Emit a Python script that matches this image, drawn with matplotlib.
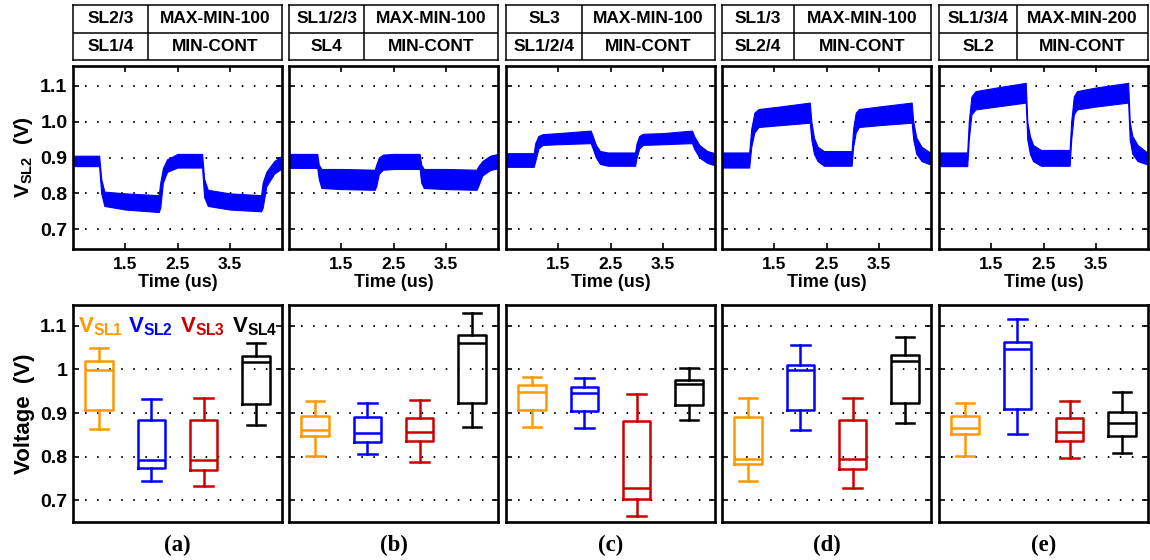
import matplotlib
matplotlib.use("Agg")
import matplotlib.pyplot as plt
from matplotlib.ticker import FixedLocator, FixedFormatter
from matplotlib.patches import Rectangle

plt.rcParams['font.family'] = ['Liberation Sans', 'DejaVu Sans']
plt.rcParams['font.weight'] = 'bold'
plt.rcParams['mathtext.fontset'] = 'custom'
plt.rcParams['mathtext.bf'] = 'Liberation Sans:bold'
plt.rcParams['mathtext.rm'] = 'Liberation Sans:bold'

# ---------------- data ----------------
panel_labels = ['(a)', '(b)', '(c)', '(d)', '(e)']
table_row1_left = ['SL2/3', 'SL1/2/3', 'SL3', 'SL1/3', 'SL1/3/4']
table_row1_right = ['MAX-MIN-100', 'MAX-MIN-100', 'MAX-MIN-100', 'MAX-MIN-100', 'MAX-MIN-200']
table_row2_left = ['SL1/4', 'SL4', 'SL1/2/4', 'SL2/4', 'SL2']
table_row2_right = ['MIN-CONT', 'MIN-CONT', 'MIN-CONT', 'MIN-CONT', 'MIN-CONT']

time_ticks = [1.5, 2.5, 3.5]
time_ticklabels = ['1.5', '2.5', '3.5']
top_yticks = [0.7, 0.8, 0.9, 1.0, 1.1]
top_yticklabels = ['0.7', '0.8', '0.9', '1.0', '1.1']
bot_yticks = [0.7, 0.8, 0.9, 1.0, 1.1]
bot_yticklabels = ['0.7', '0.8', '0.9', '1', '1.1']

# V_SL2 waveform envelopes (time in us, lower / upper edge of the noisy trace in V)
wave_a_t = [0.5, 1.0, 1.04, 1.1, 1.5, 2.14, 2.17, 2.22, 2.3, 2.5, 2.97, 3.01, 3.08, 3.5, 4.1, 4.13, 4.2, 4.35, 4.5]
wave_a_hi = [0.905, 0.905, 0.84, 0.805, 0.80, 0.795, 0.83, 0.87, 0.895, 0.91, 0.91, 0.84, 0.81, 0.80, 0.795, 0.83, 0.86, 0.89, 0.905]
wave_a_lo = [0.876, 0.876, 0.80, 0.765, 0.755, 0.748, 0.76, 0.83, 0.86, 0.872, 0.872, 0.79, 0.765, 0.755, 0.75, 0.76, 0.82, 0.855, 0.87]

wave_b_t = [0.5, 1.04, 1.07, 1.12, 1.5, 2.14, 2.17, 2.22, 2.3, 2.5, 3.0, 3.03, 3.08, 3.5, 4.09, 4.12, 4.2, 4.35, 4.5]
wave_b_hi = [0.91, 0.91, 0.88, 0.868, 0.868, 0.866, 0.88, 0.90, 0.908, 0.91, 0.91, 0.88, 0.868, 0.868, 0.866, 0.875, 0.89, 0.905, 0.91]
wave_b_lo = [0.871, 0.871, 0.84, 0.815, 0.812, 0.81, 0.82, 0.855, 0.866, 0.868, 0.868, 0.83, 0.815, 0.812, 0.81, 0.82, 0.85, 0.865, 0.87]

wave_c_t = [0.5, 1.03, 1.06, 1.12, 1.2, 1.5, 2.12, 2.16, 2.22, 2.3, 2.45, 2.97, 3.0, 3.05, 3.12, 3.5, 4.06, 4.1, 4.2, 4.35, 4.5]
wave_c_hi = [0.912, 0.912, 0.94, 0.96, 0.965, 0.968, 0.975, 0.96, 0.935, 0.918, 0.914, 0.914, 0.94, 0.96, 0.966, 0.968, 0.975, 0.96, 0.935, 0.918, 0.912]
wave_c_lo = [0.874, 0.874, 0.89, 0.925, 0.935, 0.937, 0.94, 0.925, 0.90, 0.882, 0.877, 0.877, 0.90, 0.925, 0.935, 0.937, 0.94, 0.925, 0.90, 0.885, 0.878]

wave_d_t = [0.5, 1.02, 1.06, 1.12, 1.2, 1.6, 2.18, 2.21, 2.26, 2.33, 2.45, 2.98, 3.01, 3.06, 3.12, 3.5, 4.13, 4.16, 4.22, 4.32, 4.5]
wave_d_hi = [0.914, 0.914, 0.98, 1.025, 1.035, 1.042, 1.053, 1.0, 0.955, 0.93, 0.918, 0.918, 0.98, 1.025, 1.035, 1.042, 1.053, 1.0, 0.955, 0.93, 0.912]
wave_d_lo = [0.872, 0.872, 0.93, 0.97, 0.985, 0.99, 0.997, 0.95, 0.91, 0.89, 0.877, 0.877, 0.93, 0.97, 0.985, 0.99, 0.997, 0.95, 0.91, 0.89, 0.88]

wave_e_t = [0.5, 1.04, 1.07, 1.12, 1.2, 1.6, 2.16, 2.19, 2.24, 2.3, 2.45, 3.0, 3.03, 3.08, 3.14, 3.5, 4.12, 4.15, 4.2, 4.3, 4.5]
wave_e_hi = [0.914, 0.914, 1.0, 1.07, 1.085, 1.095, 1.108, 1.0, 0.96, 0.935, 0.921, 0.921, 1.0, 1.07, 1.085, 1.095, 1.108, 1.0, 0.96, 0.935, 0.912]
wave_e_lo = [0.876, 0.876, 0.95, 1.02, 1.034, 1.042, 1.053, 0.95, 0.91, 0.89, 0.877, 0.877, 0.95, 1.02, 1.034, 1.042, 1.053, 0.95, 0.91, 0.89, 0.88]

waves = [(wave_a_t, wave_a_lo, wave_a_hi), (wave_b_t, wave_b_lo, wave_b_hi),
         (wave_c_t, wave_c_lo, wave_c_hi), (wave_d_t, wave_d_lo, wave_d_hi),
         (wave_e_t, wave_e_lo, wave_e_hi)]

# Box-plot statistics per panel: [whislo, q1, med, q3, whishi] for SL1..SL4
series_names = ['SL1', 'SL2', 'SL3', 'SL4']
box_a = [[0.864, 0.908, 0.998, 1.019, 1.050],
         [0.745, 0.775, 0.793, 0.885, 0.933],
         [0.733, 0.770, 0.793, 0.885, 0.934],
         [0.873, 0.920, 1.017, 1.031, 1.061]]
box_b = [[0.802, 0.847, 0.862, 0.894, 0.927],
         [0.806, 0.834, 0.854, 0.890, 0.922],
         [0.787, 0.836, 0.857, 0.888, 0.929],
         [0.867, 0.922, 1.061, 1.080, 1.130]]
box_c = [[0.867, 0.906, 0.949, 0.964, 0.983],
         [0.866, 0.904, 0.946, 0.960, 0.981],
         [0.664, 0.703, 0.728, 0.882, 0.944],
         [0.885, 0.919, 0.967, 0.977, 1.004]]
box_d = [[0.743, 0.783, 0.795, 0.891, 0.935],
         [0.860, 0.906, 0.998, 1.011, 1.057],
         [0.728, 0.772, 0.795, 0.884, 0.935],
         [0.877, 0.923, 1.019, 1.034, 1.075]]
box_e = [[0.801, 0.851, 0.866, 0.894, 0.923],
         [0.853, 0.910, 1.048, 1.064, 1.117],
         [0.797, 0.837, 0.856, 0.888, 0.928],
         [0.808, 0.848, 0.877, 0.902, 0.949]]
boxes = [box_a, box_b, box_c, box_d, box_e]
series_colors = ['#FF9900', '#0000FF', '#CC0000', '#000000']

# ---------------- layout ----------------
W, H = 1150, 560
fig = plt.figure(figsize=(W / 100, H / 100), dpi=100)
lefts = [73, 289, 506, 722, 939]
pw = 209
top_y0, top_y1 = 66, 249
bot_y0, bot_y1 = 305, 522
tab_y0, tab_y1 = 5, 60
split = [0.36, 0.36, 0.365, 0.345, 0.375]

def fax(x0, y0, w, h):
    return fig.add_axes([x0 / W, (H - y0 - h) / H, w / W, h / H])

grid_kw = dict(color='black', linestyle=(0, (0.8, 5.4)), linewidth=1.4, zorder=1)
ytick_fs = 14
xtick_fs = 12.5

for i in range(5):
    # ---- table ----
    tax = fax(lefts[i], tab_y0, pw, tab_y1 - tab_y0)
    tax.set_xlim(0, 1); tax.set_ylim(0, 1)
    tax.set_xticks([]); tax.set_yticks([])
    for s in tax.spines.values():
        s.set_linewidth(1.1)
    tax.axhline(0.5, color='black', lw=1.1)
    tax.axvline(split[i], color='black', lw=1.1)
    tfs = 12.5
    tax.text(split[i] / 2, 0.75, table_row1_left[i], ha='center', va='center', fontsize=tfs, fontweight='bold')
    tax.text((1 + split[i]) / 2, 0.75, table_row1_right[i], ha='center', va='center', fontsize=tfs, fontweight='bold')
    tax.text(split[i] / 2, 0.25, table_row2_left[i], ha='center', va='center', fontsize=tfs, fontweight='bold')
    tax.text((1 + split[i]) / 2, 0.25, table_row2_right[i], ha='center', va='center', fontsize=tfs, fontweight='bold')

    # ---- waveform ----
    ax = fax(lefts[i], top_y0, pw, top_y1 - top_y0)
    for y in top_yticks:
        ax.axhline(y, **grid_kw)
    t, lo, hi = waves[i]
    ax.fill_between(t, lo, hi, color='#0000FF', linewidth=0.8, edgecolor='#0000FF', zorder=2)
    ax.set_xlim(0.5, 4.5)
    ax.set_ylim(0.645, 1.155)
    ax.xaxis.set_major_locator(FixedLocator(time_ticks))
    ax.xaxis.set_major_formatter(FixedFormatter(time_ticklabels))
    ax.yaxis.set_major_locator(FixedLocator(top_yticks))
    ax.tick_params(direction='in', top=True, right=True, length=4, width=1.2, pad=4)
    ax.tick_params(axis='x', labelsize=xtick_fs, pad=6)
    ax.tick_params(axis='y', labelsize=ytick_fs)
    if i == 0:
        ax.yaxis.set_major_formatter(FixedFormatter(top_yticklabels))
        ax.set_ylabel(r'$\mathbf{V_{SL2}}$  (V)', fontsize=15, fontweight='bold', labelpad=4)
    else:
        ax.set_yticklabels([])
    ax.set_xlabel('Time (us)', fontsize=13, fontweight='bold', labelpad=1)
    for s in ax.spines.values():
        s.set_linewidth(1.9)
        s.set_zorder(5)

    # ---- box plot ----
    bx = fax(lefts[i], bot_y0, pw, bot_y1 - bot_y0)
    for y in bot_yticks:
        bx.axhline(y, **grid_kw)
    for k in range(4):
        lo_, q1, med, q3, hi_ = boxes[i][k]
        st = [dict(whislo=lo_, q1=q1, med=med, q3=q3, whishi=hi_, fliers=[])]
        c = series_colors[k]
        lp = dict(color=c, linewidth=1.8)
        bx.bxp(st, positions=[k + 1], widths=0.53, capwidths=0.35, showfliers=False,
               boxprops=lp, whiskerprops=lp, capprops=lp, medianprops=lp)
    bx.set_xlim(0.5, 4.5)
    bx.set_ylim(0.65, 1.148)
    bx.set_xticks([])
    bx.yaxis.set_major_locator(FixedLocator(bot_yticks))
    bx.tick_params(axis='y', direction='in', right=True, length=4, width=1.2,
                   labelsize=ytick_fs, pad=4)
    if i == 0:
        bx.yaxis.set_major_formatter(FixedFormatter(bot_yticklabels))
        bx.set_ylabel('Voltage  (V)', fontsize=16, fontweight='bold', labelpad=4)
        bx.add_patch(Rectangle((0.008, 0.82), 0.984, 0.15, transform=bx.transAxes,
                               facecolor='white', edgecolor='none', zorder=1.5))
        leg_x = [0.024, 0.263, 0.512, 0.761]
        for k in range(4):
            bx.text(leg_x[k], 0.876, r'$\mathbf{V_{%s}}$' % series_names[k], transform=bx.transAxes,
                    color=series_colors[k], fontsize=16, ha='left', va='baseline', zorder=6)
    else:
        bx.set_yticklabels([])
    for s in bx.spines.values():
        s.set_linewidth(1.9)
        s.set_zorder(5)
    bx.text(0.5, -0.108, panel_labels[i], transform=bx.transAxes, ha='center', va='center',
            fontsize=16.5, fontweight='bold', family=['Liberation Serif', 'DejaVu Serif'])

fig.savefig('out.png', dpi=100)
